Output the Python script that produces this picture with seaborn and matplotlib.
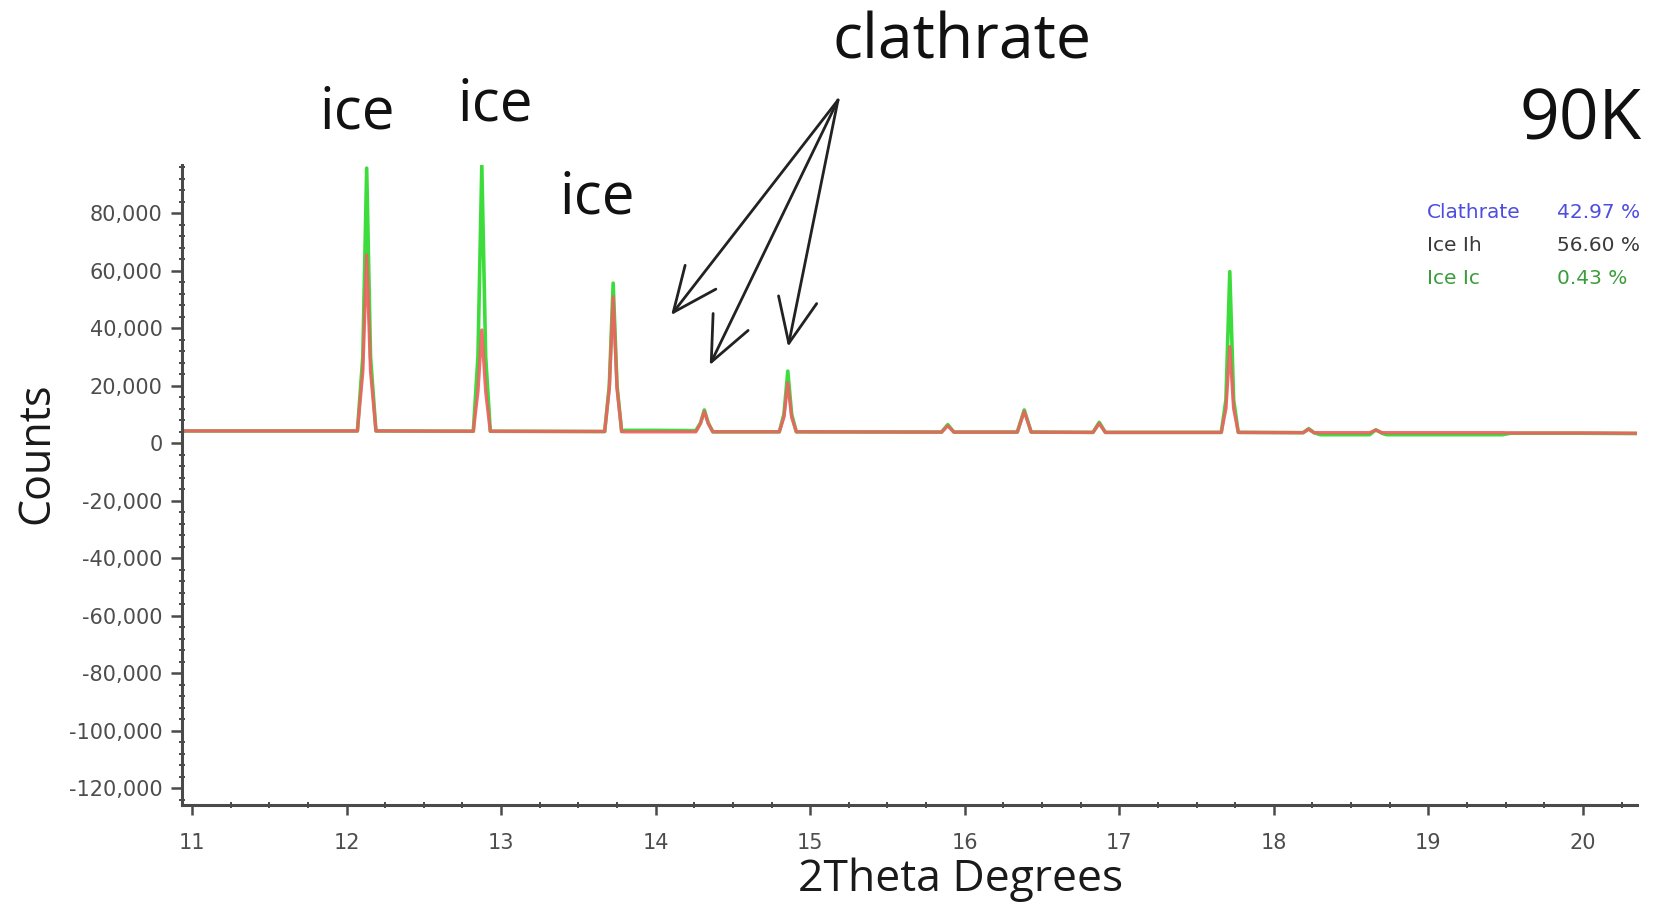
import matplotlib
matplotlib.use("Agg")
import matplotlib.pyplot as plt
import seaborn as sns
from matplotlib.ticker import MultipleLocator, FuncFormatter

# Powder diffraction pattern at 90K, observed (green) and calculated (red) profiles
# read off the picture point by point.
two_theta = [10.94, 12.07, 12.105, 12.13, 12.155, 12.19,
             12.82, 12.85, 12.875, 12.90, 12.93,
             13.67, 13.70, 13.725, 13.75, 13.78,
             13.80, 14.00, 14.26, 14.29, 14.315, 14.34, 14.37,
             14.80, 14.83, 14.855, 14.88, 14.91,
             15.85, 15.89, 15.93,
             16.34, 16.385, 16.43,
             16.83, 16.87, 16.91,
             17.66, 17.69, 17.715, 17.74, 17.77,
             18.19, 18.225, 18.26, 18.30,
             18.62, 18.66, 18.70, 18.73,
             19.48, 19.53, 20.00, 20.35]

counts_obs = [4200, 4200, 30000, 95600, 30000, 4200,
              4100, 30000, 96700, 30000, 4100,
              4000, 20000, 55600, 20000, 4000,
              4400, 4400, 4300, 7000, 11500, 7000, 3900,
              3900, 10000, 25000, 10000, 3900,
              3800, 6400, 3800,
              3800, 11500, 3800,
              3700, 7200, 3700,
              3700, 15000, 59600, 15000, 3700,
              3600, 5000, 3600, 2900,
              2900, 4600, 3400, 2900,
              2900, 3400, 3400, 3300]

counts_calc = [4200, 4200, 25000, 65400, 25000, 4200,
               4100, 18000, 39300, 18000, 4100,
               4000, 19000, 50900, 19000, 4000,
               3900, 3900, 3900, 6800, 11000, 6800, 3900,
               3900, 9000, 21000, 9000, 3900,
               3800, 6000, 3800,
               3800, 11000, 3800,
               3700, 6800, 3700,
               3700, 12000, 33500, 12000, 3700,
               3600, 4800, 3600, 3600,
               3600, 4500, 3600, 3600,
               3600, 3500, 3500, 3400]

y_ticks = [-120000, -100000, -80000, -60000, -40000, -20000, 0, 20000, 40000, 60000, 80000]
x_ticks = [11, 12, 13, 14, 15, 16, 17, 18, 19, 20]

phase_names = ["Clathrate", "Ice Ih", "Ice Ic"]
phase_pct = ["42.97 %", "56.60 %", "0.43 %"]
phase_colors = ["#4d4de0", "#3a3a3a", "#3c9c3c"]

# peaks marked as ice, and the clathrate peaks the arrows point to
ice_labels_px = [(357, 113), (495, 105), (597, 198)]
clathrate_tips = [(14.10, 44500), (14.35, 27100), (14.857, 33500)]
clathrate_src = (15.18, 119300)

sns.set_style("ticks")
fig = plt.figure(figsize=(16.59, 9.10), dpi=100)
ax = fig.add_axes([182/1659, 1-805/910, (1637-182)/1659, (805-165)/910])

sns.lineplot(x=two_theta, y=counts_obs, ax=ax, color="#3ddc3d", lw=2.6,
             estimator=None, sort=False)
sns.lineplot(x=two_theta, y=counts_calc, ax=ax, color="#ee6262", lw=2.4,
             alpha=0.92, estimator=None, sort=False)

ax.set_xlim(10.935, 20.35)
ax.set_ylim(-125900, 96700)
ax.set_xticks(x_ticks)
ax.set_yticks(y_ticks)
ax.xaxis.set_minor_locator(MultipleLocator(0.25))
ax.yaxis.set_minor_locator(MultipleLocator(4000))
ax.yaxis.set_major_formatter(FuncFormatter(lambda v, p: f"{v:,.0f}"))
ax.xaxis.set_major_formatter(FuncFormatter(lambda v, p: f"{v:.0f}"))

for s in ["top", "right"]:
    ax.spines[s].set_visible(False)
for s in ["left", "bottom"]:
    ax.spines[s].set_color("#4a4a4a")
    ax.spines[s].set_linewidth(2.2)

ax.tick_params(axis="y", which="major", length=8, width=1.8, color="#4a4a4a",
               pad=6, labelsize=15, labelcolor="#4d4d4d")
ax.tick_params(axis="x", which="major", length=7, width=1.8, color="#4a4a4a",
               pad=13, labelsize=15, labelcolor="#4d4d4d")
ax.tick_params(which="minor", length=4, width=1.4, color="#4a4a4a",
               direction="inout")
for lab in ax.get_xticklabels() + ax.get_yticklabels():
    lab.set_family("DejaVu Sans")

ax.set_xlabel("2Theta Degrees", family="Open Sans", fontsize=32, color="#1a1a1a", va="center")
ax.xaxis.set_label_coords((961-182)/1455, (805-880)/640)
ax.set_ylabel("Counts", family="Open Sans", fontsize=31, color="#1a1a1a", va="center")
ax.yaxis.set_label_coords((37-182)/1455, (805-453)/640)

# big annotation words
for (px, py) in ice_labels_px:
    fig.text(px/1659, 1-py/910, "ice", family="Open Sans", fontsize=42,
             color="#111111", ha="center", va="center")
fig.text(962/1659, 1-42/910, "clathrate", family="Open Sans", fontsize=45,
         color="#111111", ha="center", va="center")
fig.text(1581/1659, 1-122/910, "90K", family="Open Sans", fontsize=50,
         color="#111111", ha="center", va="center")

for tip in clathrate_tips:
    ax.annotate("", xy=tip, xytext=clathrate_src, xycoords="data",
                textcoords="data", annotation_clip=False,
                arrowprops=dict(arrowstyle="->,head_length=1.6,head_width=0.7",
                                color="#222222", lw=2.0, mutation_scale=20,
                                shrinkA=0, shrinkB=0))

# phase fraction table in the top right
for i, (name, pct, col) in enumerate(zip(phase_names, phase_pct, phase_colors)):
    y = 1 - (213 + i*32.5)/910
    fig.text(1427/1659, y, name, family="DejaVu Sans", fontsize=14.5,
             color=col, ha="left", va="center")
    fig.text(1557/1659, y, pct, family="DejaVu Sans", fontsize=14.5,
             color=col, ha="left", va="center")

fig.savefig("out.png", dpi=100, facecolor="white")
